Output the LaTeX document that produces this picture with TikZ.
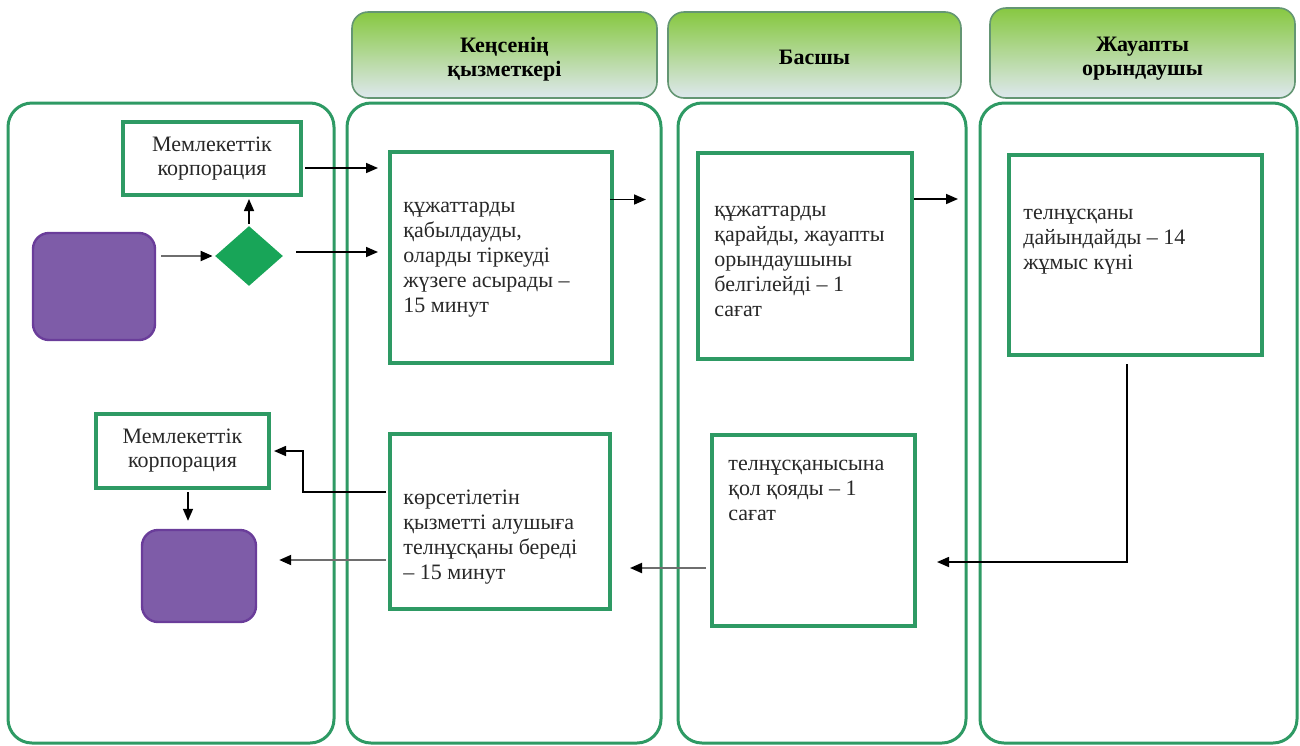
\documentclass[tikz,border=0pt]{standalone}
\usepackage{fontspec}
\setmainfont{Liberation Serif}
\usetikzlibrary{arrows.meta,shapes.geometric,calc}
\definecolor{lanegreen}{RGB}{46,154,100}
\definecolor{hdrtop}{RGB}{135,200,65}
\definecolor{hdrmid}{RGB}{190,220,160}
\definecolor{hdrbot}{RGB}{222,232,238}
\definecolor{hdrborder}{RGB}{100,150,115}
\definecolor{purfill}{RGB}{126,92,168}
\definecolor{purborder}{RGB}{106,61,154}
\definecolor{diagreen}{RGB}{24,165,88}
\definecolor{txt}{RGB}{40,40,40}
\definecolor{greyline}{RGB}{110,110,110}
\tikzset{
  lane/.style={draw=lanegreen, line width=1.5pt, rounded corners=12pt, inner sep=0pt},
  header/.style={draw=hdrborder, line width=0.8pt, rounded corners=8pt, top color=hdrtop, middle color=hdrmid, bottom color=hdrbot, inner sep=0pt, align=center, font=\fontsize{11}{12}\selectfont\bfseries, text=black},
  hdrtext/.style={inner sep=0pt, align=center, font=\fontsize{11}{12}\selectfont\bfseries, text=black},
  stepbox/.style={draw=lanegreen, line width=2pt, fill=white, inner sep=0pt},
  mkbox/.style={draw=lanegreen, line width=2pt, fill=white, inner sep=0pt, align=center, font=\fontsize{11}{12}\selectfont, text=txt},
  purple/.style={draw=purborder, line width=1.2pt, fill=purfill, rounded corners=8pt, inner sep=0pt},
  dia/.style={diamond, fill=diagreen, draw=none, inner sep=0pt},
  lbl/.style={align=left, anchor=west, inner sep=0pt, font=\fontsize{11}{12.5}\selectfont, text=txt},
  arr/.style={draw=black, line width=0.8pt, -{Triangle[length=6pt,width=5pt]}},
  garr/.style={draw=greyline, line width=1pt, -{Triangle[length=6pt,width=5pt,color=black]}},
}
\begin{document}
\begin{tikzpicture}[x=0.5pt,y=-0.5pt]
\useasboundingbox (0,0) rectangle (1300,745);
% headers
\node[header, minimum width=152.5pt, minimum height=43pt] (H1) at (504.5,55) {};
\node[hdrtext] (H1t) at (504.5,59) {Кеңсенің\\қызметкері};
\node[header, minimum width=146.5pt, minimum height=43pt] (H2) at (814.5,55) {};
\node[hdrtext] (H2t) at (814.5,57) {Басшы};
\node[header, minimum width=152.5pt, minimum height=45pt] (H3) at (1142.5,53) {};
\node[hdrtext] (H3t) at (1142.5,59) {Жауапты\\орындаушы};
% lanes
\node[lane, minimum width=163pt, minimum height=320pt] (L0) at (171,423) {};
\node[lane, minimum width=157pt, minimum height=320pt] (L1) at (504,423) {};
\node[lane, minimum width=144pt, minimum height=320pt] (L2) at (822,423) {};
\node[lane, minimum width=158.5pt, minimum height=320pt] (L3) at (1138.5,423) {};
% left lane shapes
\node[mkbox, minimum width=89pt, minimum height=36.5pt] (MK1) at (212,158.5) {Мемлекеттік\\корпорация};
\node[purple, minimum width=61pt, minimum height=53.5pt] (P1) at (94,286.5) {};
\node[dia, minimum width=34pt, minimum height=30pt] (Dia) at (249,256) {};
\node[mkbox, minimum width=86.5pt, minimum height=37pt] (MK2) at (182.5,451) {Мемлекеттік\\корпорация};
\node[purple, minimum width=57pt, minimum height=46pt] (P2) at (199,576) {};
% step boxes
\node[stepbox, minimum width=111pt, minimum height=105.5pt] (A) at (501,257.5) {};
\node[lbl] (At) at (403,260) {құжаттарды\\қабылдауды,\\оларды тіркеуді\\жүзеге асырады –\\15 минут};
\node[stepbox, minimum width=107pt, minimum height=103pt] (B) at (805,256) {};
\node[lbl] (Bt) at (714,261) {құжаттарды\\қарайды, жауапты\\орындаушыны\\белгілейді – 1\\сағат};
\node[stepbox, minimum width=126.5pt, minimum height=100pt] (C) at (1135.5,255) {};
\node[lbl] (Ct) at (1023,242) {телнұсқаны\\дайындайды – 14\\жұмыс күні};
\node[stepbox, minimum width=101.5pt, minimum height=95.5pt] (D) at (813.5,530.5) {};
\node[lbl] (Dt) at (728,490) {телнұсқанысына\\қол қояды – 1\\сағат};
\node[stepbox, minimum width=110pt, minimum height=87.5pt] (E) at (500,521.5) {};
\node[lbl] (Et) at (403,537) {көрсетілетін\\қызметті алушыға\\телнұсқаны береді\\– 15 минут};
% connectors
\draw[garr, shorten <=2.5pt, shorten >=1pt] (Dia.west -| P1.east) -- (Dia.west);
\draw[arr, shorten <=1pt, shorten >=1pt] (Dia.north) -- (Dia.north |- MK1.south);
\coordinate (m1) at ($(MK1.east)+(2,9.5)$);
\draw[arr, shorten >=5pt] (m1) -- (m1 -| A.west);
\coordinate (d1) at ($(Dia.east)+(13,-4)$);
\draw[arr, shorten >=5pt] (d1) -- (d1 -| A.west);
\coordinate (a1) at ($(A.east)+(-4,-58)$);
\draw[arr, shorten >=25pt] (a1) -- (a1 -| B.west);
\coordinate (b1) at ($(B.east)+(0,-57)$);
\draw[arr, shorten >=24.5pt] (b1) -- (b1 -| C.west);
\coordinate (c1) at ($(C.south)+(-8.5,7)$);
\coordinate (d2) at ($(D.east)+(0,31.5)$);
\draw[arr, shorten >=10pt] (c1) |- (d2);
\coordinate (e1) at ($(D.west)+(-4,37.5)$);
\draw[garr, shorten >=9pt] (e1) -- (e1 -| E.east);
\coordinate (e2) at ($(E.west)+(-2,-29.5)$);
\coordinate (e2b) at ($(e2)+(-83,0)$);
\draw[arr, shorten >=1.5pt] (e2) -- (e2b) |- (MK2.east);
\coordinate (e3) at ($(E.west)+(-2,38.5)$);
\draw[garr, shorten >=11pt] (e3) -- (e3 -| P2.east);
\coordinate (k2) at ($(MK2.south)+(5.5,2)$);
\draw[arr, shorten >=4pt] (k2) -- (k2 |- P2.north);
\end{tikzpicture}
\end{document}
